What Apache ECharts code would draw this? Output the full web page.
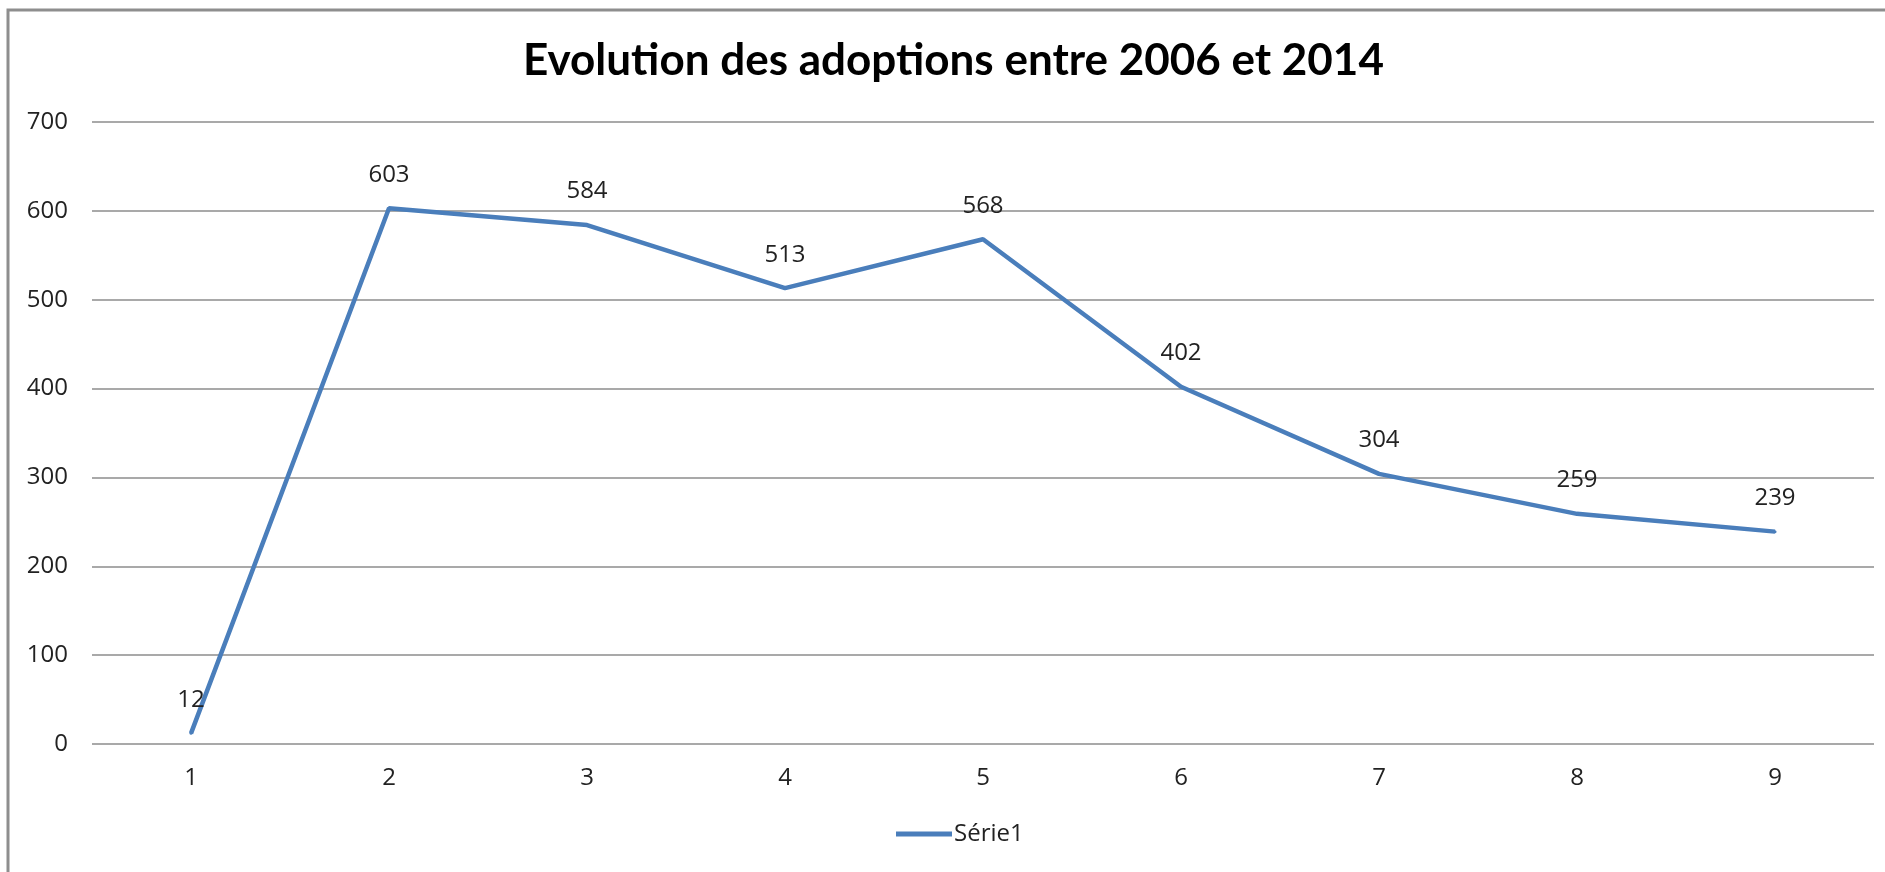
<!DOCTYPE html>
<html>
<head>
<meta charset="utf-8">
<script src="https://cdn.jsdelivr.net/npm/echarts@6/dist/echarts.min.js"></script>
<style>
  html, body { margin: 0; padding: 0; background: #fff; }
  #chart { width: 1885px; height: 872px; }
</style>
</head>
<body>
<div id="chart"></div>
<script>
var categories = ['1', '2', '3', '4', '5', '6', '7', '8', '9'];
var serie1 = [12, 603, 584, 513, 568, 402, 304, 259, 239];
var yTicks = { min: 0, max: 700, interval: 100 };

var chart = echarts.init(document.getElementById('chart'));
var font = "'Open Sans', 'Liberation Sans', sans-serif";
var blue = '#4a7ebb';

var option = {
  animation: false,
  title: {
    text: 'Evolution des adoptions entre 2006 et 2014',
    left: 518,
    top: 34,
    textStyle: {
      fontFamily: "Lato, 'Open Sans', sans-serif",
      fontWeight: 'bold',
      fontSize: 44,
      color: '#000'
    }
  },
  // frame of the chart area, cut at right and bottom
  graphic: [{
    type: 'rect',
    shape: { x: 8, y: 10, width: 2000, height: 2000 },
    style: { fill: 'none', stroke: '#8e8e8e', lineWidth: 3 },
    silent: true
  }],
  legend: {
    data: ['Série1'],
    bottom: 21,
    left: 891,
    icon: 'rect',
    itemWidth: 56,
    itemHeight: 5,
    itemGap: 10,
    itemStyle: { color: blue },
    textStyle: { fontFamily: font, fontSize: 24, color: '#222', padding: [0, 0, 0, -3] }
  },
  grid: {
    left: 92,
    right: 11,
    top: 122,
    bottom: 128,
    containLabel: false
  },
  xAxis: {
    type: 'category',
    data: categories,
    boundaryGap: true,
    axisLine: { show: false },
    axisTick: { show: false },
    axisLabel: { fontFamily: font, fontSize: 24, color: '#222', margin: 22 }
  },
  yAxis: {
    type: 'value',
    min: yTicks.min,
    max: yTicks.max,
    interval: yTicks.interval,
    axisLine: { show: false },
    axisTick: { show: false },
    axisLabel: { fontFamily: font, fontSize: 24, color: '#222', margin: 24 },
    splitLine: { lineStyle: { color: '#8c8c8c', width: 1.5 } }
  },
  series: [{
    name: 'Série1',
    type: 'line',
    data: serie1,
    symbol: 'circle',
    symbolSize: 3,
    showSymbol: true,
    lineStyle: { color: blue, width: 4.5 },
    itemStyle: { color: blue },
    label: {
      show: true,
      position: 'top',
      distance: 20,
      fontFamily: font,
      fontSize: 24,
      color: '#222'
    }
  }]
};

chart.setOption(option);
</script>
</body>
</html>
